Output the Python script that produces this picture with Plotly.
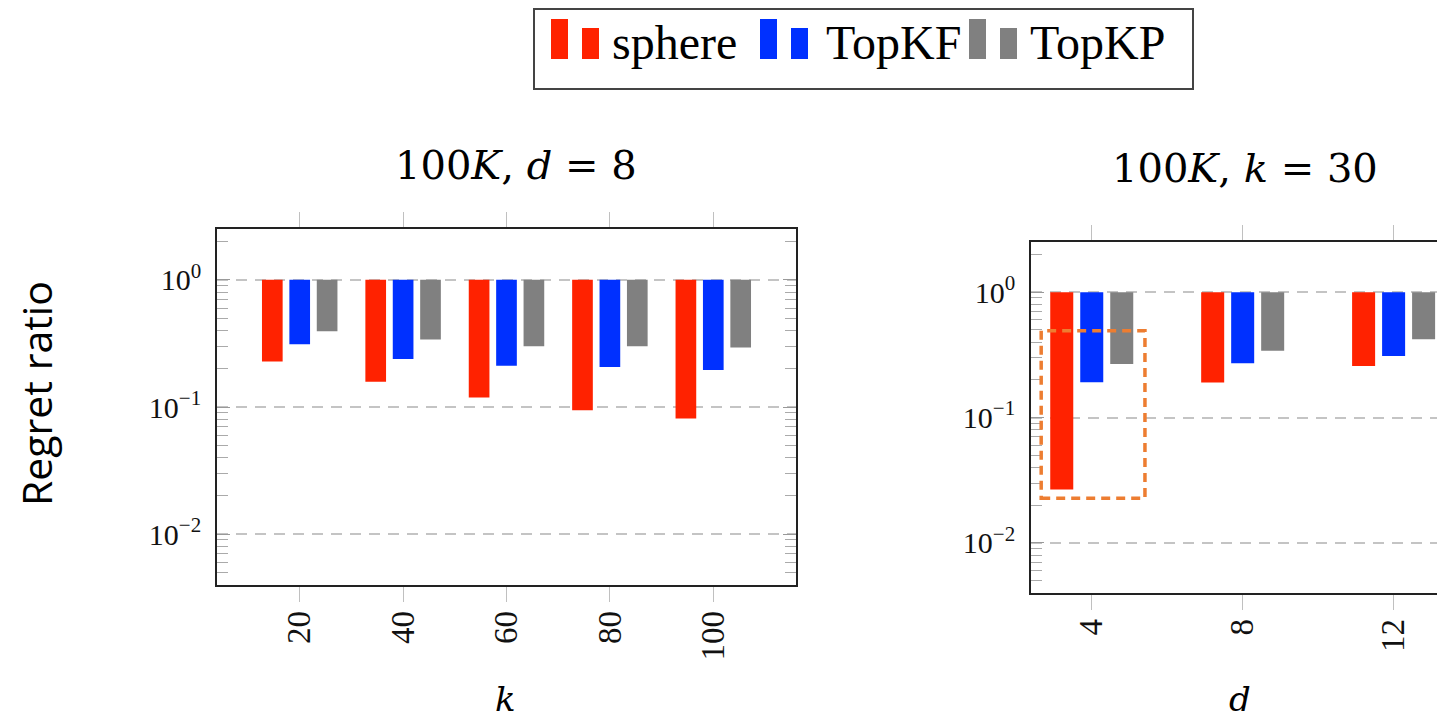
import plotly.graph_objects as go
from plotly.subplots import make_subplots

# ---------------- data ----------------
methods = ["sphere", "TopKF", "TopKP"]
colors = ["#FF2200", "#0030FF", "#808080"]

k_values = [20, 40, 60, 80, 100]
left_sphere = [0.228, 0.158, 0.119, 0.0944, 0.0812]
left_topkf = [0.312, 0.238, 0.211, 0.206, 0.195]
left_topkp = [0.395, 0.340, 0.301, 0.301, 0.294]

d_values = [4, 8, 12]
right_sphere = [0.0266, 0.190, 0.258]
right_topkf = [0.191, 0.271, 0.310]
right_topkp = [0.267, 0.341, 0.420]

y_tick_vals = [0.01, 0.1, 1]
y_tick_text = ["10<sup>−2</sup>", "10<sup>−1</sup>", "10<sup>0</sup>"]

left_title = "100<i>K</i>, <i>d</i> = 8"
right_title = "100<i>K</i>, <i>k</i> = 30"

# ---------------- layout helpers ----------------
W, H = 1437, 722


def px(x):
    return x / W


def py(y):
    return 1 - y / H


fig = make_subplots(rows=1, cols=2)

left_series = [left_sphere, left_topkf, left_topkp]
right_series = [right_sphere, right_topkf, right_topkp]
left_width, left_offsets = 4.0, [-7.3, -2.0, 3.3]
right_width, right_offsets = 0.61, [-1.1, -0.305, 0.49]

for i, name in enumerate(methods):
    vals = left_series[i]
    fig.add_trace(go.Bar(
        x=k_values, y=[1 - v for v in vals], base=vals, name=name,
        width=left_width, offset=left_offsets[i],
        marker=dict(color=colors[i], line=dict(width=0)),
        showlegend=False), row=1, col=1)
    vals = right_series[i]
    fig.add_trace(go.Bar(
        x=d_values, y=[1 - v for v in vals], base=vals, name=name,
        width=right_width, offset=right_offsets[i],
        marker=dict(color=colors[i], line=dict(width=0)),
        showlegend=False), row=1, col=2)

ytick_font = dict(family="Liberation Serif", size=30, color="#111")
xtick_font = dict(family="Liberation Serif", size=33, color="#111")
minor_vals = [m * 10 ** e for e in (-3, -2, -1, 0) for m in range(2, 10)]

yaxis_common = dict(
    type="log", range=[-2.4, 0.4],
    tickmode="array", tickvals=y_tick_vals, ticktext=y_tick_text,
    ticks="inside", ticklen=13, tickwidth=1.3, tickcolor="#999",
    minor=dict(tickmode="array", tickvals=minor_vals, ticks="inside",
               ticklen=11, tickwidth=1, tickcolor="#aaa", showgrid=False),
    showgrid=True, gridcolor="#c4c4c4", gridwidth=1.6, griddash="11px,8px",
    showline=True, linecolor="#222", linewidth=1.6,
    tickfont=ytick_font, ticklabelstandoff=8, zeroline=False,
)
xaxis_common = dict(
    ticks="outside", ticklen=15, tickwidth=1.2, tickcolor="#c0c0c0",
    showline=True, linecolor="#222", linewidth=1.6, mirror="ticks",
    showgrid=False, zeroline=False, tickangle=-90, tickfont=xtick_font,
    ticklabelstandoff=-4,
)

fig.update_layout(
    xaxis=dict(domain=[px(217), px(796)], range=[4, 116],
               tickmode="array", tickvals=k_values, **xaxis_common),
    yaxis=dict(domain=[py(585), py(229)], mirror="ticks", **yaxis_common),
    xaxis2=dict(domain=[px(1031), 1.0], range=[2.39, 13.15],
                tickmode="array", tickvals=d_values, **xaxis_common),
    yaxis2=dict(domain=[py(593), py(242)], mirror=False, **yaxis_common),
)

# orange dashed highlight around d = 4 group
fig.add_shape(type="rect", xref="x2", yref="y2", x0=2.66, x1=5.41,
              y0=0.0227, y1=0.492,
              line=dict(color="#ED7D31", width=3.5, dash="9px,6px"),
              fillcolor="rgba(0,0,0,0)", layer="above")


def text_ann(text, x, y, font, **kw):
    d = dict(text=text, x=px(x), y=py(y), xref="paper", yref="paper",
             xanchor="center", yanchor="middle", showarrow=False, font=font)
    d.update(kw)
    return d


ann = []
title_font = dict(family="DejaVu Serif", size=40, color="#000")
ann.append(text_ann(left_title, 516, 165, title_font))
ann.append(text_ann(right_title, 1245, 168, title_font))
axis_font = dict(family="DejaVu Serif", size=34, color="#000")
ann.append(text_ann("<i>k</i>", 505, 699, axis_font))
ann.append(text_ann("<i>d</i>", 1240, 699, axis_font))
ann.append(text_ann("Regret ratio", 36, 394,
                    dict(family="Open Sans", size=41, color="#000"), textangle=-90))

# manual legend
shapes = [dict(type="rect", xref="paper", yref="paper", x0=px(534), x1=px(1193),
               y0=py(89), y1=py(9), line=dict(color="#444", width=2),
               fillcolor="white", layer="above")]
legend_icon_x = [551, 760, 969]
legend_text_x = [610, 824, 1028]
for i, name in enumerate(methods):
    x0 = legend_icon_x[i]
    shapes.append(dict(type="rect", xref="paper", yref="paper", x0=px(x0), x1=px(x0 + 17),
                       y0=py(59), y1=py(19), line=dict(width=0), fillcolor=colors[i],
                       layer="above"))
    shapes.append(dict(type="rect", xref="paper", yref="paper", x0=px(x0 + 31), x1=px(x0 + 48),
                       y0=py(59), y1=py(28), line=dict(width=0), fillcolor=colors[i],
                       layer="above"))
    ann.append(text_ann(name, legend_text_x[i], 43,
                        dict(family="Liberation Serif", size=48, color="#000"),
                        xanchor="left"))

for s in shapes:
    fig.add_shape(**s)

fig.update_layout(
    width=W, height=H, margin=dict(l=0, r=0, t=0, b=0),
    paper_bgcolor="white", plot_bgcolor="white",
    barmode="overlay", annotations=ann, showlegend=False,
)

fig.write_html("out.html",
               config={"displayModeBar": False},
               post_script="document.body.style.margin='0';"
                           "document.body.style.overflow='hidden';")
